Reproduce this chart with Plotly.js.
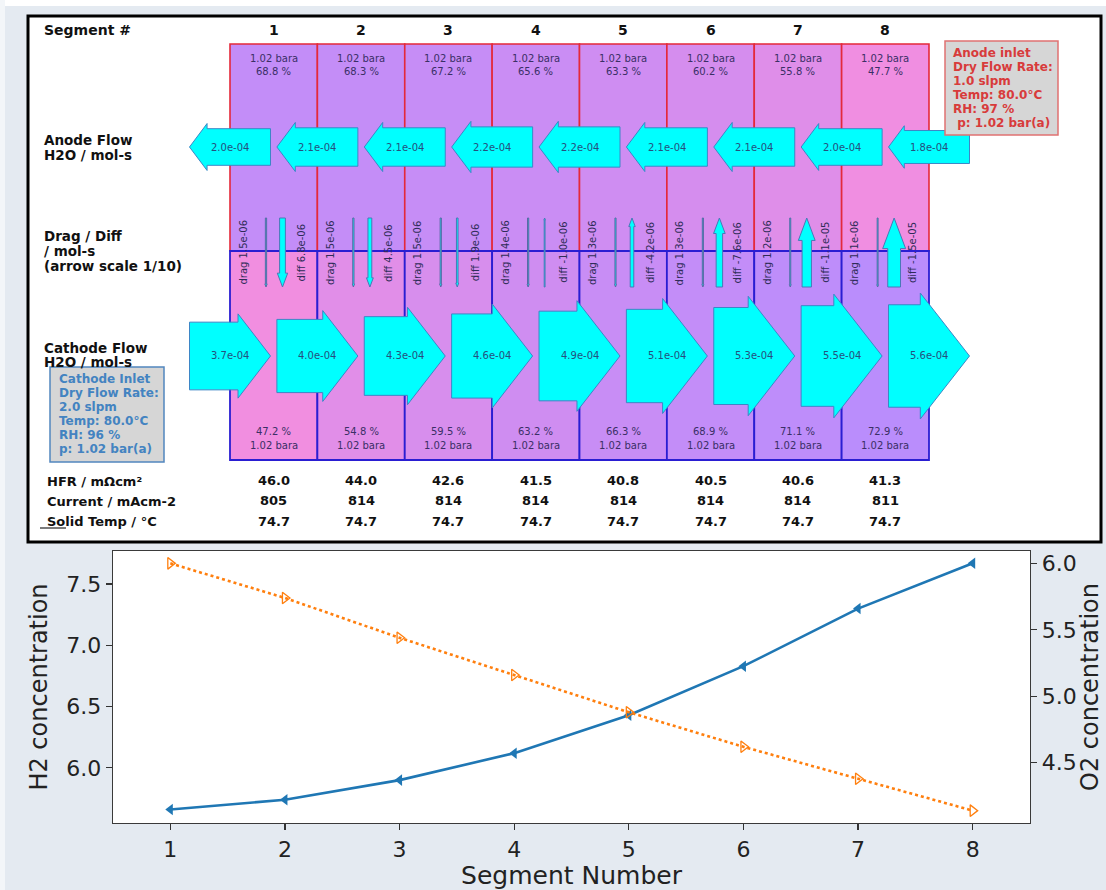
<!DOCTYPE html>
<html><head><meta charset="utf-8">
<script src="https://cdn.plot.ly/plotly-3.0.1.min.js"></script>
<style>html,body{margin:0;padding:0;background:#e4eaf1;}#chart{width:1106px;height:890px;}</style>
</head><body><div id="chart"></div>
<script>
// ---------------- data ----------------
const segments = [1, 2, 3, 4, 5, 6, 7, 8];
const anodePressure = [1.02, 1.02, 1.02, 1.02, 1.02, 1.02, 1.02, 1.02];
const anodeRH = [68.8, 68.3, 67.2, 65.6, 63.3, 60.2, 55.8, 47.7];
const cathodeRH = [47.2, 54.8, 59.5, 63.2, 66.3, 68.9, 71.1, 72.9];
const cathodePressure = [1.02, 1.02, 1.02, 1.02, 1.02, 1.02, 1.02, 1.02];
// flows at the 9 segment boundaries (left edge of seg 1 ... right edge of seg 8)
const anodeFlow = [2.0e-4, 2.1e-4, 2.1e-4, 2.2e-4, 2.2e-4, 2.1e-4, 2.1e-4, 2.0e-4, 1.8e-4];
const cathodeFlow = [3.7e-4, 4.0e-4, 4.3e-4, 4.6e-4, 4.9e-4, 5.1e-4, 5.3e-4, 5.5e-4, 5.6e-4];
const dragFlux = [1.5e-6, 1.5e-6, 1.5e-6, 1.4e-6, 1.3e-6, 1.3e-6, 1.2e-6, 1.1e-6];
const diffFlux = [6.8e-6, 4.5e-6, 1.9e-6, -1.0e-6, -4.2e-6, -7.6e-6, -1.1e-5, -1.5e-5];
const hfr = ['46.0', '44.0', '42.6', '41.5', '40.8', '40.5', '40.6', '41.3'];
const currentDensity = ['805', '814', '814', '814', '814', '814', '814', '811'];
const solidTemp = ['74.7', '74.7', '74.7', '74.7', '74.7', '74.7', '74.7', '74.7'];
const anodeInletLines = ['Anode inlet', 'Dry Flow Rate:', '1.0 slpm', 'Temp: 80.0°C', 'RH: 97 %', ' p: 1.02 bar(a)'];
const cathodeInletLines = ['Cathode Inlet', 'Dry Flow Rate:', '2.0 slpm', 'Temp: 80.0°C', 'RH: 96 %', 'p: 1.02 bar(a)'];
const h2Conc = [5.66, 5.74, 5.90, 6.12, 6.43, 6.83, 7.30, 7.67];
const o2Conc = [6.00, 5.74, 5.44, 5.16, 4.88, 4.62, 4.38, 4.14];
const h2Ticks = [6.0, 6.5, 7.0, 7.5];
const o2Ticks = [4.5, 5.0, 5.5, 6.0];

// ---------------- helpers ----------------
const W = 1106, H = 890;
const PX = 87.375, X0 = 230;            // pixels per segment, pixel of x=0.5
const ux = p => 0.5 + (p - X0) / PX;     // pixel column -> segment units
const pxX = p => p / W, pxY = p => 1 - p / H;
const FONT = 'DejaVu Sans';
const fmtE = v => v.toExponential(1).replace(/e([+-])(\d)$/, 'e$10$2');
function rhColor(rh) {
  const t = Math.max(0, Math.min(1, (rh - 47.2) / (72.9 - 47.2)));
  const a = [241, 142, 224], b = [186, 141, 252];
  const c = a.map((v, i) => Math.round(v + (b[i] - v) * t));
  return `rgb(${c[0]},${c[1]},${c[2]})`;
}

const traces = [];
const shapes = [];
const ann = [];

// ---------------- bottom chart ----------------
traces.push({
  type: 'scatter', mode: 'lines+markers', x: segments, y: h2Conc, xaxis: 'x', yaxis: 'y',
  line: {color: '#1f77b4', width: 2.6}, marker: {symbol: 'triangle-left', size: 10, color: '#1f77b4'},
  hoverinfo: 'skip', showlegend: false
});
traces.push({
  type: 'scatter', mode: 'lines+markers', x: segments, y: o2Conc, xaxis: 'x', yaxis: 'y2',
  line: {color: '#ff7f0e', width: 2.6, dash: 'dot'},
  marker: {symbol: 'triangle-right-open', size: 10, color: '#ff7f0e', line: {width: 1.3, color: '#ff7f0e'}},
  hoverinfo: 'skip', showlegend: false
});
shapes.push({type: 'rect', xref: 'x domain', yref: 'y domain', x0: 0, x1: 1, y0: 0, y1: 1,
  fillcolor: '#ffffff', line: {width: 0}, layer: 'below'});
// right axis title, pushed against the page edge
ann.push({xref: 'paper', yref: 'paper', x: 1, y: pxY(687), xanchor: 'right', yanchor: 'middle',
  text: 'O2 concentration', textangle: -90, showarrow: false,
  font: {family: FONT, size: 24, color: '#222'}});

// ---------------- top panel ----------------
// background strips + frame
shapes.push({type: 'rect', xref: 'paper', yref: 'paper', x0: 0, x1: 1, y0: pxY(6), y1: 1, fillcolor: '#ffffff', line: {width: 0}, layer: 'below'});
shapes.push({type: 'rect', xref: 'paper', yref: 'paper', x0: 0, x1: pxX(5), y0: 0, y1: 1, fillcolor: '#f3f6f9', line: {width: 0}, layer: 'below'});
shapes.push({type: 'rect', xref: 'paper', yref: 'paper', x0: pxX(28), x1: pxX(1101), y0: pxY(542), y1: pxY(16),
  fillcolor: '#ffffff', line: {color: '#000000', width: 3}, layer: 'below'});

const anodeTop = 44, midY = 251, cathBot = 460;
segments.forEach((s, i) => {
  shapes.push({type: 'rect', xref: 'x3', yref: 'y3', x0: s - 0.5, x1: s + 0.5, y0: anodeTop, y1: midY,
    fillcolor: rhColor(anodeRH[i]), line: {color: '#e4293a', width: 1.6}, layer: 'below'});
});
segments.forEach((s, i) => {
  shapes.push({type: 'rect', xref: 'x3', yref: 'y3', x0: s - 0.5, x1: s + 0.5, y0: midY, y1: cathBot,
    fillcolor: rhColor(cathodeRH[i]), line: {color: '#2a1ed2', width: 1.8}, layer: 'below'});
});

// flow arrows
const K = 1.83e5;
function hArrow(cx, cy, flow, dir) {
  const t = flow * K, hh = t / 2 * 1.2 + 1.5, hl = 0.48 * t, L = 81;
  const tail = cx - dir * (L / 2) / PX, tip = cx + dir * (L / 2) / PX, base = tip - dir * hl / PX;
  traces.push({
    type: 'scatter', mode: 'lines', xaxis: 'x3', yaxis: 'y3',
    x: [tail, base, base, tip, base, base, tail, tail],
    y: [cy - t / 2, cy - t / 2, cy - hh, cy, cy + hh, cy + t / 2, cy + t / 2, cy - t / 2],
    fill: 'toself', fillcolor: '#00ffff', line: {color: '#3d86c6', width: 1},
    hoverinfo: 'skip', showlegend: false
  });
}
const anodeY = 147, cathY = 356;
anodeFlow.forEach((f, b) => {
  hArrow(b + 0.5, anodeY, f, -1);
  ann.push({xref: 'x3', yref: 'y3', x: b + 0.5, y: anodeY, text: fmtE(f), showarrow: false,
    font: {family: FONT, size: 10, color: '#24507e'}});
});
cathodeFlow.forEach((f, b) => {
  hArrow(b + 0.5, cathY, f, 1);
  ann.push({xref: 'x3', yref: 'y3', x: b + 0.5, y: cathY - 1, text: fmtE(f), showarrow: false,
    font: {family: FONT, size: 10, color: '#24507e'}});
});

// drag / diff arrows
const KD = 8.5e5, vTop = 218, vBot = 287;
function vArrow(cx, value, edge) {
  const w = Math.abs(value) * KD, hw = w * 0.9, hl = 2.4 * w;
  const down = value > 0;
  const tipY = down ? vBot : vTop, tailY = down ? vTop : vBot;
  const baseY = tipY + (down ? -hl : hl);
  const hx = w / 2 / PX, hhx = hw / PX;
  traces.push({
    type: 'scatter', mode: 'lines', xaxis: 'x3', yaxis: 'y3',
    x: [cx - hx, cx - hx, cx - hhx, cx, cx + hhx, cx + hx, cx + hx, cx - hx],
    y: [tailY, baseY, baseY, tipY, baseY, baseY, tailY, tailY],
    fill: 'toself', fillcolor: '#00ffff', line: {color: edge, width: 1},
    hoverinfo: 'skip', showlegend: false
  });
}
segments.forEach((s, i) => {
  const left = s - 0.5;
  ann.push({xref: 'x3', yref: 'y3', x: left + 13 / PX, y: 252.5, text: 'drag ' + fmtE(dragFlux[i]), textangle: -90,
    showarrow: false, font: {family: FONT, size: 10, color: '#2f2c58'}});
  ann.push({xref: 'x3', yref: 'y3', x: left + 71 / PX, y: 252.5, text: 'diff ' + fmtE(diffFlux[i]), textangle: -90,
    showarrow: false, font: {family: FONT, size: 10, color: '#2f2c58'}});
  vArrow(left + 36 / PX, dragFlux[i], '#5a68a4');
  vArrow(left + 52.5 / PX, diffFlux[i], '#4a78b6');
});

// column texts
segments.forEach((s, i) => {
  ann.push({xref: 'x3', yref: 'y3', x: s, y: 30, text: '<b>' + s + '</b>', showarrow: false,
    font: {family: FONT, size: 14, color: '#111'}});
  ann.push({xref: 'x3', yref: 'y3', x: s, y: 58, text: anodePressure[i].toFixed(2) + ' bara', showarrow: false,
    font: {family: FONT, size: 10, color: '#3a2f66'}});
  ann.push({xref: 'x3', yref: 'y3', x: s, y: 71.5, text: anodeRH[i].toFixed(1) + ' %', showarrow: false,
    font: {family: FONT, size: 10, color: '#3a2f66'}});
  ann.push({xref: 'x3', yref: 'y3', x: s, y: 431, text: cathodeRH[i].toFixed(1) + ' %', showarrow: false,
    font: {family: FONT, size: 10, color: '#3a2f66'}});
  ann.push({xref: 'x3', yref: 'y3', x: s, y: 445, text: cathodePressure[i].toFixed(2) + ' bara', showarrow: false,
    font: {family: FONT, size: 10, color: '#3a2f66'}});
  ann.push({xref: 'x3', yref: 'y3', x: s, y: 480, text: '<b>' + hfr[i] + '</b>', showarrow: false,
    font: {family: FONT, size: 13, color: '#111'}});
  ann.push({xref: 'x3', yref: 'y3', x: s, y: 500.5, text: '<b>' + currentDensity[i] + '</b>', showarrow: false,
    font: {family: FONT, size: 13, color: '#111'}});
  ann.push({xref: 'x3', yref: 'y3', x: s, y: 521, text: '<b>' + solidTemp[i] + '</b>', showarrow: false,
    font: {family: FONT, size: 13, color: '#111'}});
});

// row labels
const rowLabels = [
  ['Segment #', 42, 30, 14], ['Anode Flow', 42, 140, 13.5], ['H2O / mol-s', 42, 155, 13.5],
  ['Drag / Diff', 42, 236, 13.5], ['/ mol-s', 42, 250.5, 13.5], ['(arrow scale 1/10)', 42, 266, 13.5],
  ['Cathode Flow', 42, 347.5, 13.5], ['H2O / mol-s', 42, 361.5, 13.5],
  ['HFR / mΩcm²', 45, 481, 13], ['Current / mAcm-2', 45, 501, 13], ['Solid Temp / °C', 45, 521.5, 13]
];
rowLabels.forEach(([t, px, py, fs]) => {
  ann.push({xref: 'x3', yref: 'y3', x: ux(px), y: py, xanchor: 'left', text: '<b>' + t + '</b>', showarrow: false,
    font: {family: FONT, size: fs, color: '#111'}});
});
shapes.push({type: 'line', xref: 'x3', yref: 'y3', x0: ux(40), x1: ux(66), y0: 528, y1: 528,
  line: {color: '#222', width: 1.2}});

// inlet boxes
shapes.push({type: 'rect', xref: 'x3', yref: 'y3', x0: ux(945), x1: ux(1058), y0: 41, y1: 135,
  fillcolor: '#d6d6d6', line: {color: '#e07272', width: 1.5}});
anodeInletLines.forEach((t, k) => {
  ann.push({xref: 'x3', yref: 'y3', x: ux(951), y: 53 + k * 14, xanchor: 'left', text: '<b>' + t.replace(/^ /, '&nbsp;') + '</b>',
    showarrow: false, font: {family: FONT, size: 12, color: '#d83b3b'}});
});
shapes.push({type: 'rect', xref: 'x3', yref: 'y3', x0: ux(50), x1: ux(164), y0: 367, y1: 462,
  fillcolor: '#d6d6d6', line: {color: '#5286bf', width: 1.5}});
cathodeInletLines.forEach((t, k) => {
  ann.push({xref: 'x3', yref: 'y3', x: ux(56.5), y: 379 + k * 14, xanchor: 'left', text: '<b>' + t + '</b>',
    showarrow: false, font: {family: FONT, size: 12, color: '#4383c1'}});
});

// ---------------- layout ----------------
const axisCommon = {
  ticks: 'outside', ticklen: 6, tickwidth: 1.2, tickcolor: '#333', showline: true, linecolor: '#3a3a3a',
  linewidth: 1.3, showgrid: false, zeroline: false, tickfont: {family: FONT, size: 22, color: '#222'}, fixedrange: true
};
const layout = {
  width: W, height: H, margin: {l: 0, r: 0, t: 0, b: 0},
  paper_bgcolor: '#e4eaf1', plot_bgcolor: 'rgba(0,0,0,0)',
  font: {family: FONT}, showlegend: false, hovermode: false,
  xaxis: Object.assign({}, axisCommon, {
    domain: [113 / W, 1030 / W], anchor: 'y', range: [0.5, 8.5], tickvals: segments, mirror: true,
    title: {text: 'Segment Number', font: {family: FONT, size: 25, color: '#222'}, standoff: 6}
  }),
  yaxis: Object.assign({}, axisCommon, {
    domain: [1 - 823 / H, 1 - 551 / H], anchor: 'x', range: [5.55, 7.77], tickvals: h2Ticks,
    ticktext: h2Ticks.map(v => v.toFixed(1)),
    title: {text: 'H2 concentration', font: {family: FONT, size: 24, color: '#222'}, standoff: 12}
  }),
  yaxis2: Object.assign({}, axisCommon, {
    overlaying: 'y', side: 'right', anchor: 'x', range: [4.047, 6.093], tickvals: o2Ticks,
    ticktext: o2Ticks.map(v => v.toFixed(1))
  }),
  xaxis3: {domain: [0, 1], anchor: 'y3', range: [ux(0), ux(W)], visible: false, fixedrange: true},
  yaxis3: {domain: [1 - 545 / H, 1], anchor: 'x3', range: [545, 0], visible: false, fixedrange: true},
  shapes: shapes, annotations: ann
};
Plotly.newPlot('chart', traces, layout, {displayModeBar: false, staticPlot: true});
</script></body></html>
